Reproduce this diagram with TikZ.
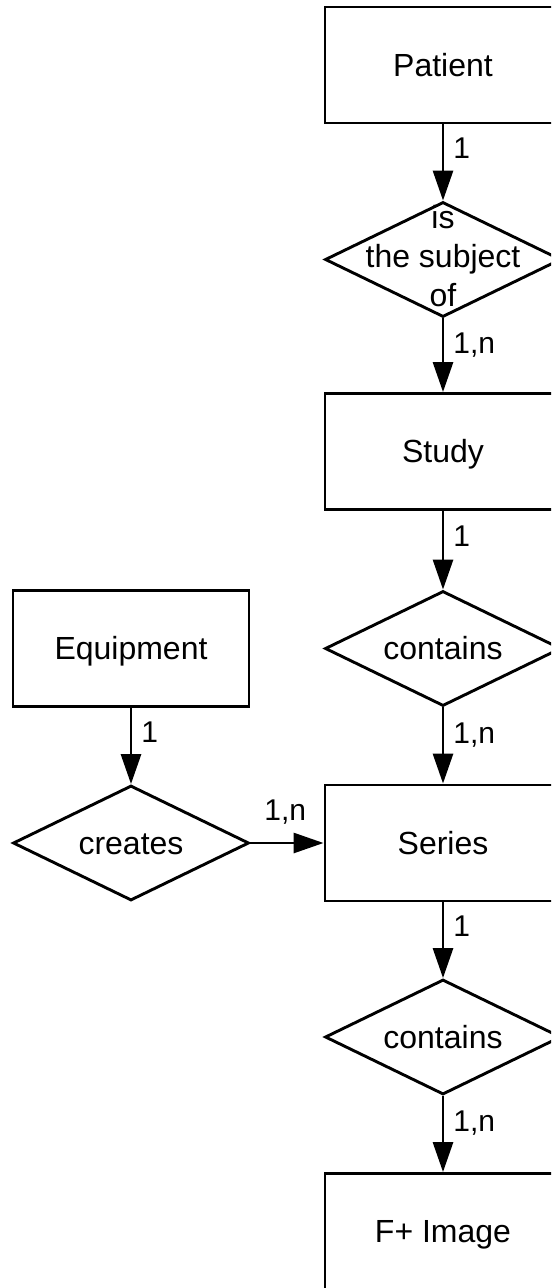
\documentclass[tikz,border=0pt]{standalone}
\usepackage{fontspec}
\setmainfont{Liberation Sans}
\usetikzlibrary{shapes.geometric,arrows.meta}
\begin{document}
\begin{tikzpicture}[x=0.5pt,y=-0.5pt,
  every node/.style={font=\fontsize{16}{19.5}\selectfont},
  entity/.style={draw, line width=1.45pt, rectangle, minimum width=118pt, minimum height=58pt, inner sep=0pt, text height=11.46pt, text depth=0pt},
  relation/.style={draw, line width=1.45pt, diamond, minimum width=118pt, minimum height=57.5pt, inner sep=0pt, text height=11.46pt, text depth=0pt},
  conn/.style={line width=1.45pt, -{Triangle[length=15pt,width=10pt]}},
  card/.style={font=\fontsize{15}{18}\selectfont, inner sep=0pt, text height=10.74pt, text depth=0pt}
]
\useasboundingbox (0,0) rectangle (551,1288);
\clip (0,0) rectangle (551,1288);

\node[entity] (patient) at (443,65) {Patient};
\node[relation] (subj) at (443,259.5) {\makebox[0pt]{\raisebox{1.4pt}[0pt][0pt]{\begin{tabular}{@{}c@{}}is\\the subject\\of\end{tabular}}}};
\node[entity] (study) at (443,451.5) {Study};
\node[relation] (cont1) at (443,648.5) {\makebox[0pt]{contains}};
\node[entity] (series) at (443,843) {Series};
\node[relation] (cont2) at (443,1037) {\makebox[0pt]{contains}};
\node[entity] (image) at (443,1231.5) {F+ Image};
\node[entity] (equip) at (131,648.5) {Equipment};
\node[relation] (creates) at (131,843) {\makebox[0pt]{creates}};

\draw[conn] (patient.south) -- node[card,pos=0.31,anchor=west,xshift=4.5pt]{1} (subj.north);
\draw[conn] (subj.south) -- node[card,pos=0.33,anchor=west,xshift=4.5pt]{1,n} (study.north);
\draw[conn] (study.south) -- node[card,pos=0.31,anchor=west,xshift=4.5pt]{1} (cont1.north);
\draw[conn] (cont1.south) -- node[card,pos=0.33,anchor=west,xshift=4.5pt]{1,n} (series.north);
\draw[conn] (series.south) -- node[card,pos=0.31,anchor=west,xshift=4.5pt]{1} (cont2.north);
\draw[conn] (cont2.south) -- node[card,pos=0.33,anchor=west,xshift=4.5pt]{1,n} (image.north);
\draw[conn] (equip.south) -- node[card,pos=0.31,anchor=west,xshift=4.5pt]{1} (creates.north);
\draw[conn] (creates.east) -- node[card,pos=1,anchor=south east,xshift=-8pt,yshift=10.5pt]{1,n} (series.west);
\end{tikzpicture}
\end{document}
